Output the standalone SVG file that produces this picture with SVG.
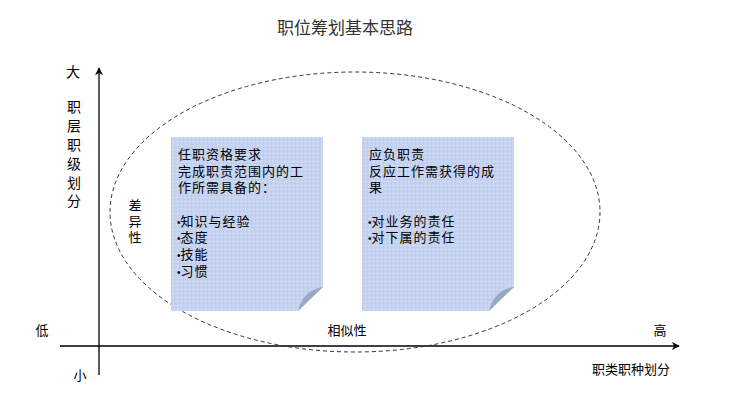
<svg xmlns="http://www.w3.org/2000/svg" width="740" height="404" viewBox="0 0 740 404">
<style>
text{font-family:"Noto Sans CJK SC","Noto Sans",sans-serif;fill:#000}
.t{font-size:14px}
.n{font-size:13px;letter-spacing:1px}
.s{font-size:13px}
.b{font-family:"Liberation Sans",sans-serif;font-size:10px;letter-spacing:0}
.note{fill:url(#dots)}
.fold{fill:#9aa8c4}
.axis{stroke:#000;stroke-width:1.3;fill:none}
</style>
<defs>
<pattern id="dots" width="4" height="4" patternUnits="userSpaceOnUse">
<rect width="4" height="4" fill="#c5d3f1"/>
<rect x="1" y="1" width="1" height="1" fill="#dce6f8"/>
<rect x="3" y="3" width="1" height="1" fill="#b9c8ea"/>
</pattern>
<marker id="arr" viewBox="0 0 10 10" refX="9" refY="5" markerWidth="8" markerHeight="8" markerUnits="userSpaceOnUse" orient="auto">
<path d="M0,0 L10,5 L0,10 L3,5 Z" fill="#000"/>
</marker>
</defs>
<text x="345" y="34" font-size="17" text-anchor="middle" style="fill:#333">职位筹划基本思路</text>
<g id="connectors">
<line class="axis" x1="99" y1="375" x2="99" y2="68" marker-end="url(#arr)"/>
<line class="axis" x1="60" y1="346" x2="679" y2="346" marker-end="url(#arr)"/>
</g>
<g id="ellipse">
<ellipse cx="355" cy="212" rx="245" ry="140" fill="none" stroke="#333" stroke-width="1" stroke-dasharray="4,3"/>
</g>
<g id="axis-labels">
<text class="t" x="73" y="77" text-anchor="middle">大</text>
<text class="t" text-anchor="middle"><tspan x="74" y="112">职</tspan><tspan x="74" y="131">层</tspan><tspan x="74" y="150">职</tspan><tspan x="74" y="169">级</tspan><tspan x="74" y="188">划</tspan><tspan x="74" y="206">分</tspan></text>
<text class="s" x="42" y="335" text-anchor="middle">低</text>
<text class="s" x="80" y="380" text-anchor="middle">小</text>
<text class="s" x="660" y="335" text-anchor="middle">高</text>
<text class="s" x="631" y="374" text-anchor="middle">职类职种划分</text>
<text class="s" x="347" y="335" text-anchor="middle">相似性</text>
<text class="s" text-anchor="middle"><tspan x="135" y="210">差</tspan><tspan x="135" y="226">异</tspan><tspan x="135" y="242">性</tspan></text>
</g>
<g id="note-left">
<path class="note" d="M171,137 H323 V287 L298,311 H171 Z"/>
<path class="fold" d="M323,287 Q303,290 298,311 Z"/>
<text class="n"><tspan x="178" y="159">任职资格要求</tspan><tspan x="178" y="176">完成职责范围内的工</tspan><tspan x="178" y="192">作所需具备的：</tspan><tspan x="177" y="226" class="b">•</tspan><tspan>知识与经验</tspan><tspan x="177" y="242" class="b">•</tspan><tspan>态度</tspan><tspan x="177" y="259" class="b">•</tspan><tspan>技能</tspan><tspan x="177" y="276" class="b">•</tspan><tspan>习惯</tspan></text>
</g>
<g id="note-right">
<path class="note" d="M362,137 H514 V287 L489,311 H362 Z"/>
<path class="fold" d="M514,287 Q494,290 489,311 Z"/>
<text class="n"><tspan x="369" y="159">应负职责</tspan><tspan x="369" y="176">反应工作需获得的成</tspan><tspan x="369" y="192">果</tspan><tspan x="368" y="226" class="b">•</tspan><tspan>对业务的责任</tspan><tspan x="368" y="242" class="b">•</tspan><tspan>对下属的责任</tspan></text>
</g>
</svg>
